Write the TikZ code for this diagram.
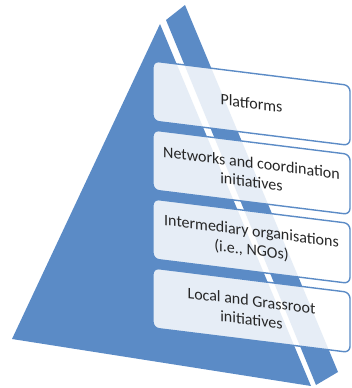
\documentclass[tikz,border=0pt]{standalone}
\usepackage{fontspec}
\setmainfont{Carlito}
\usepackage{tikz}
\definecolor{pyrblue}{RGB}{91,139,198}
\tikzset{
  tierbox/.style={draw=pyrblue, line width=1.4pt, fill=white, fill opacity=0.85, text opacity=1,
    rounded corners=6pt, minimum width=197pt, minimum height=60pt, inner sep=0pt,
    align=center, transform shape, text=black!85, font=\fontsize{16}{19}\selectfont}
}

\begin{document}
\begin{tikzpicture}[x=1pt, y=-1pt]
    \useasboundingbox (0,0) rectangle (352,388);

    % pyramid faces
    \fill[pyrblue] (160,24) -- (12,339) -- (311,386) -- cycle;
    \fill[pyrblue] (166,20) -- (185,5) -- (338,372) -- (316,385) -- cycle;

    % tiers
    \begin{scope}[shift={(153,0)}, yslant=-0.124]
      \node[tierbox] (platforms) at (98.5,91) {Platforms};
      \node[tierbox] (networks) at (98.5,160) {Networks and coordination\\initiatives};
      \node[tierbox] (intermediary) at (98.5,229) {Intermediary organisations\\(i.e., NGOs)};
      \node[tierbox] (local) at (98.5,298) {Local and Grassroot\\initiatives};
    \end{scope}
  \end{tikzpicture}
\end{document}
